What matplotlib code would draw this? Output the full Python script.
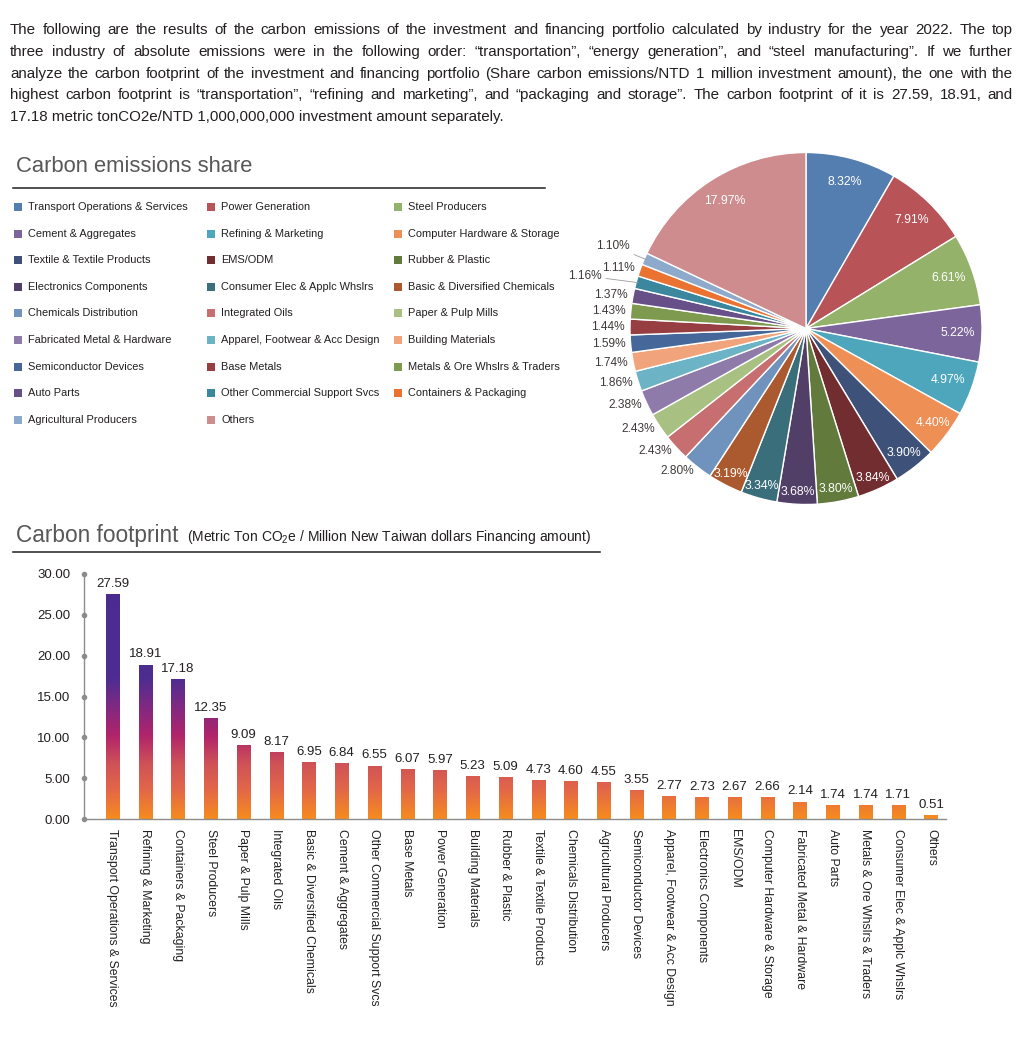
import matplotlib
matplotlib.use("Agg")
import matplotlib.pyplot as plt
import numpy as np
from matplotlib.colors import LinearSegmentedColormap
from matplotlib.patches import Rectangle
from matplotlib.lines import Line2D

W, H = 1031, 1043
plt.rcParams["font.family"] = ["Liberation Sans", "DejaVu Sans"]
plt.rcParams["mathtext.fontset"] = "custom"
plt.rcParams["mathtext.rm"] = "Liberation Sans"

TXT = "#231F20"
GREY = "#595757"

# paragraph
para_lines = [
    "The following are the results of the carbon emissions of the investment and financing portfolio calculated by industry for the year 2022. The top",
    "three industry of absolute emissions were in the following order: \u201ctransportation\u201d, \u201cenergy generation\u201d, and \u201csteel manufacturing\u201d. If we further",
    "analyze the carbon footprint of the investment and financing portfolio (Share carbon emissions/NTD 1 million investment amount), the one with the",
    "highest carbon footprint is \u201ctransportation\u201d, \u201crefining and marketing\u201d, and \u201cpackaging and storage\u201d. The carbon footprint of it is 27.59, 18.91, and",
    "17.18 metric tonCO2e/NTD 1,000,000,000 investment amount separately.",
]

# pie data (clockwise from 12 o'clock)
share_labels = [
    "Transport Operations & Services", "Power Generation", "Steel Producers",
    "Cement & Aggregates", "Refining & Marketing", "Computer Hardware & Storage",
    "Textile & Textile Products", "EMS/ODM", "Rubber & Plastic",
    "Electronics Components", "Consumer Elec & Applc Whslrs", "Basic & Diversified Chemicals",
    "Chemicals Distribution", "Integrated Oils", "Paper & Pulp Mills",
    "Fabricated Metal & Hardware", "Apparel, Footwear & Acc Design", "Building Materials",
    "Semiconductor Devices", "Base Metals", "Metals & Ore Whslrs & Traders",
    "Auto Parts", "Other Commercial Support Svcs", "Containers & Packaging",
    "Agricultural Producers", "Others",
]
share_values = [8.32, 7.91, 6.61, 5.22, 4.97, 4.40, 3.90, 3.84, 3.80, 3.68, 3.34, 3.19,
                2.80, 2.43, 2.43, 2.38, 1.86, 1.74, 1.59, 1.44, 1.43, 1.37, 1.16, 1.11,
                1.10, 17.97]
share_colors = [
    "#537EAF", "#B85357", "#94B26A", "#7B659B", "#4DA6BB", "#EE8F55",
    "#3E5279", "#722D31", "#627A3B", "#513F67", "#3B6E7B", "#AB5A30",
    "#7093BD", "#C76E70", "#A9C083", "#8E7BAA", "#6DB3C6", "#F1A47B",
    "#45679A", "#973E43", "#7D9A4F", "#675088", "#3B879E", "#EB7332",
    "#8DA9CC", "#CE8C8E",
]

# bar data
fp_labels = [
    "Transport Operations & Services", "Refining & Marketing", "Containers & Packaging",
    "Steel Producers", "Paper & Pulp Mills", "Integrated Oils",
    "Basic & Diversified Chemicals", "Cement & Aggregates", "Other Commercial Support Svcs",
    "Base Metals", "Power Generation", "Building Materials", "Rubber & Plastic",
    "Textile & Textile Products", "Chemicals Distribution", "Agricultural Producers",
    "Semiconductor Devices", "Apparel, Footwear & Acc Design", "Electronics Components",
    "EMS/ODM", "Computer Hardware & Storage", "Fabricated Metal & Hardware",
    "Auto Parts", "Metals & Ore Whslrs & Traders", "Consumer Elec & Applc Whslrs", "Others",
]
fp_values = [27.59, 18.91, 17.18, 12.35, 9.09, 8.17, 6.95, 6.84, 6.55, 6.07, 5.97, 5.23,
             5.09, 4.73, 4.60, 4.55, 3.55, 2.77, 2.73, 2.67, 2.66, 2.14, 1.74, 1.74, 1.71, 0.51]
y_ticks = [0, 5, 10, 15, 20, 25, 30]


def fx(px):
    return px / W


def fy(py):
    return 1 - py / H


fig = plt.figure(figsize=(W / 100, H / 100), dpi=100)
renderer = fig.canvas.get_renderer()

# ---- justified paragraph
para_fs = 10.9
left, right = 10, 1013
for i, line in enumerate(para_lines):
    yb = fy(34 + i * 21.8)
    if i == len(para_lines) - 1:
        fig.text(fx(left), yb, line, fontsize=para_fs, color=TXT, va="baseline")
        continue
    words = line.split(" ")
    arts = [fig.text(0, yb, w, fontsize=para_fs, color=TXT, va="baseline") for w in words]
    widths = [a.get_window_extent(renderer).width for a in arts]
    gap = (right - left - sum(widths)) / (len(words) - 1)
    x = left
    for a, w in zip(arts, widths):
        a.set_x(fx(x))
        x += w + gap

# ---- section titles
fig.text(fx(16), fy(172), "Carbon emissions share", fontsize=15.8, color=GREY, va="baseline")
fig.add_artist(Line2D([fx(13), fx(545)], [fy(188), fy(188)], color="#231F20", lw=1.1))

fig.text(fx(16), fy(542), "Carbon footprint", fontsize=16.3, color=GREY, va="baseline")
fig.text(fx(187), fy(541), r"(Metric Ton CO$_\mathregular{2}$e / Million New Taiwan dollars Financing amount)",
         fontsize=10, color=TXT, va="baseline")
fig.add_artist(Line2D([fx(13), fx(600)], [fy(552), fy(552)], color="#231F20", lw=1.1))

# ---- legend grid (row-major, 3 columns)
col_x = [14, 207, 394]
for k, (lab, col) in enumerate(zip(share_labels, share_colors)):
    r, c = divmod(k, 3)
    yc = 207 + r * 26.6
    fig.add_artist(Rectangle((fx(col_x[c]), fy(yc + 4)), 8 / W, 8 / H, facecolor=col,
                             edgecolor="none", transform=fig.transFigure))
    fig.text(fx(col_x[c] + 14), fy(yc), lab, fontsize=7.9, color="#231F20", va="center")

# ---- pie
R = 180
cx, cy = 806, 328.5
ax_pie = fig.add_axes([fx(cx - 220), fy(cy + 220), 440 / W, 440 / H])
ax_pie.set_xlim(-220 / R, 220 / R)
ax_pie.set_ylim(-220 / R, 220 / R)
ax_pie.axis("off")
wedges, _ = ax_pie.pie(share_values, colors=share_colors, startangle=90, counterclock=False,
                       radius=1, wedgeprops=dict(edgecolor="white", linewidth=1.0))

total = sum(share_values)
cum = 0
special = {"Other Commercial Support Svcs": (-1.16, 0.30),
           "Agricultural Producers": (-1.0, 0.47)}
for lab, v in zip(share_labels, share_values):
    mid = (cum + v / 2) / total * 360
    cum += v
    ang = np.deg2rad(90 - mid)
    txt = f"{v:.2f}%"
    if v >= 3.0:
        rr = 0.86 if v >= 4.9 else (0.9 if v >= 3.9 else 0.93)
        ax_pie.text(rr * np.cos(ang), rr * np.sin(ang), txt, color="white", fontsize=8.8,
                    ha="center", va="center")
    elif lab in special:
        ax_pie.annotate(txt, xy=(0.99 * np.cos(ang), 0.99 * np.sin(ang)), xytext=special[lab],
                        ha="right", va="center", fontsize=8.6, color="#3E3A39",
                        arrowprops=dict(arrowstyle="-", color="#9A9A9A", lw=0.6,
                                        shrinkA=1, shrinkB=0))
    else:
        rr = 1.03
        ax_pie.text(rr * np.cos(ang), rr * np.sin(ang), txt, color="#3E3A39", fontsize=8.6,
                    ha="right", va="center")

# ---- bar chart
ax = fig.add_axes([fx(84), fy(819), (946 - 84) / W, (819 - 574) / H])
n = len(fp_values)
xs = np.arange(n)
xlim = (-0.87, n - 1 + 0.46)
bw = 0.4

cmap = LinearSegmentedColormap.from_list("fp", [
    (0.0, "#F68B1F"), (0.12, "#E2664A"), (0.22, "#CF5356"), (0.34, "#B0246B"),
    (0.47, "#7A2A84"), (0.57, "#4E2D91"), (1.0, "#4A2C8E")])
grad = np.linspace(0, 1, 300).reshape(-1, 1)

bars = ax.bar(xs, fp_values, width=bw, facecolor="none", edgecolor="none")
for b in bars:
    im = ax.imshow(grad, extent=[xlim[0], xlim[1], 0, 30], origin="lower", aspect="auto",
                   cmap=cmap, zorder=2)
    im.set_clip_path(b)

for x, v in zip(xs, fp_values):
    ax.annotate(f"{v:.2f}", (x, v), xytext=(0, 3), textcoords="offset points",
                ha="center", va="bottom", fontsize=9.5, color=TXT)

ax.set_xlim(*xlim)
ax.set_ylim(0, 30)
ax.set_yticks(y_ticks)
ax.set_yticklabels([f"{t:.2f}" for t in y_ticks], fontsize=9.5, color=TXT)
ax.set_xticks(xs)
ax.set_xticklabels(fp_labels, rotation=270, ha="center", va="top", fontsize=8.8, color=TXT)
ax.tick_params(axis="both", length=0)
ax.tick_params(axis="y", pad=10)
ax.tick_params(axis="x", pad=7)
for s in ["top", "right"]:
    ax.spines[s].set_visible(False)
ax.spines["left"].set_color("#8C8C8C")
ax.spines["bottom"].set_color("#8C8C8C")
ax.spines["left"].set_linewidth(1.0)
ax.spines["bottom"].set_linewidth(1.0)
ax.scatter([xlim[0]] * len(y_ticks), y_ticks, s=9, color="#8C8C8C", clip_on=False, zorder=5)

fig.savefig("out.png", dpi=100, facecolor="white")
